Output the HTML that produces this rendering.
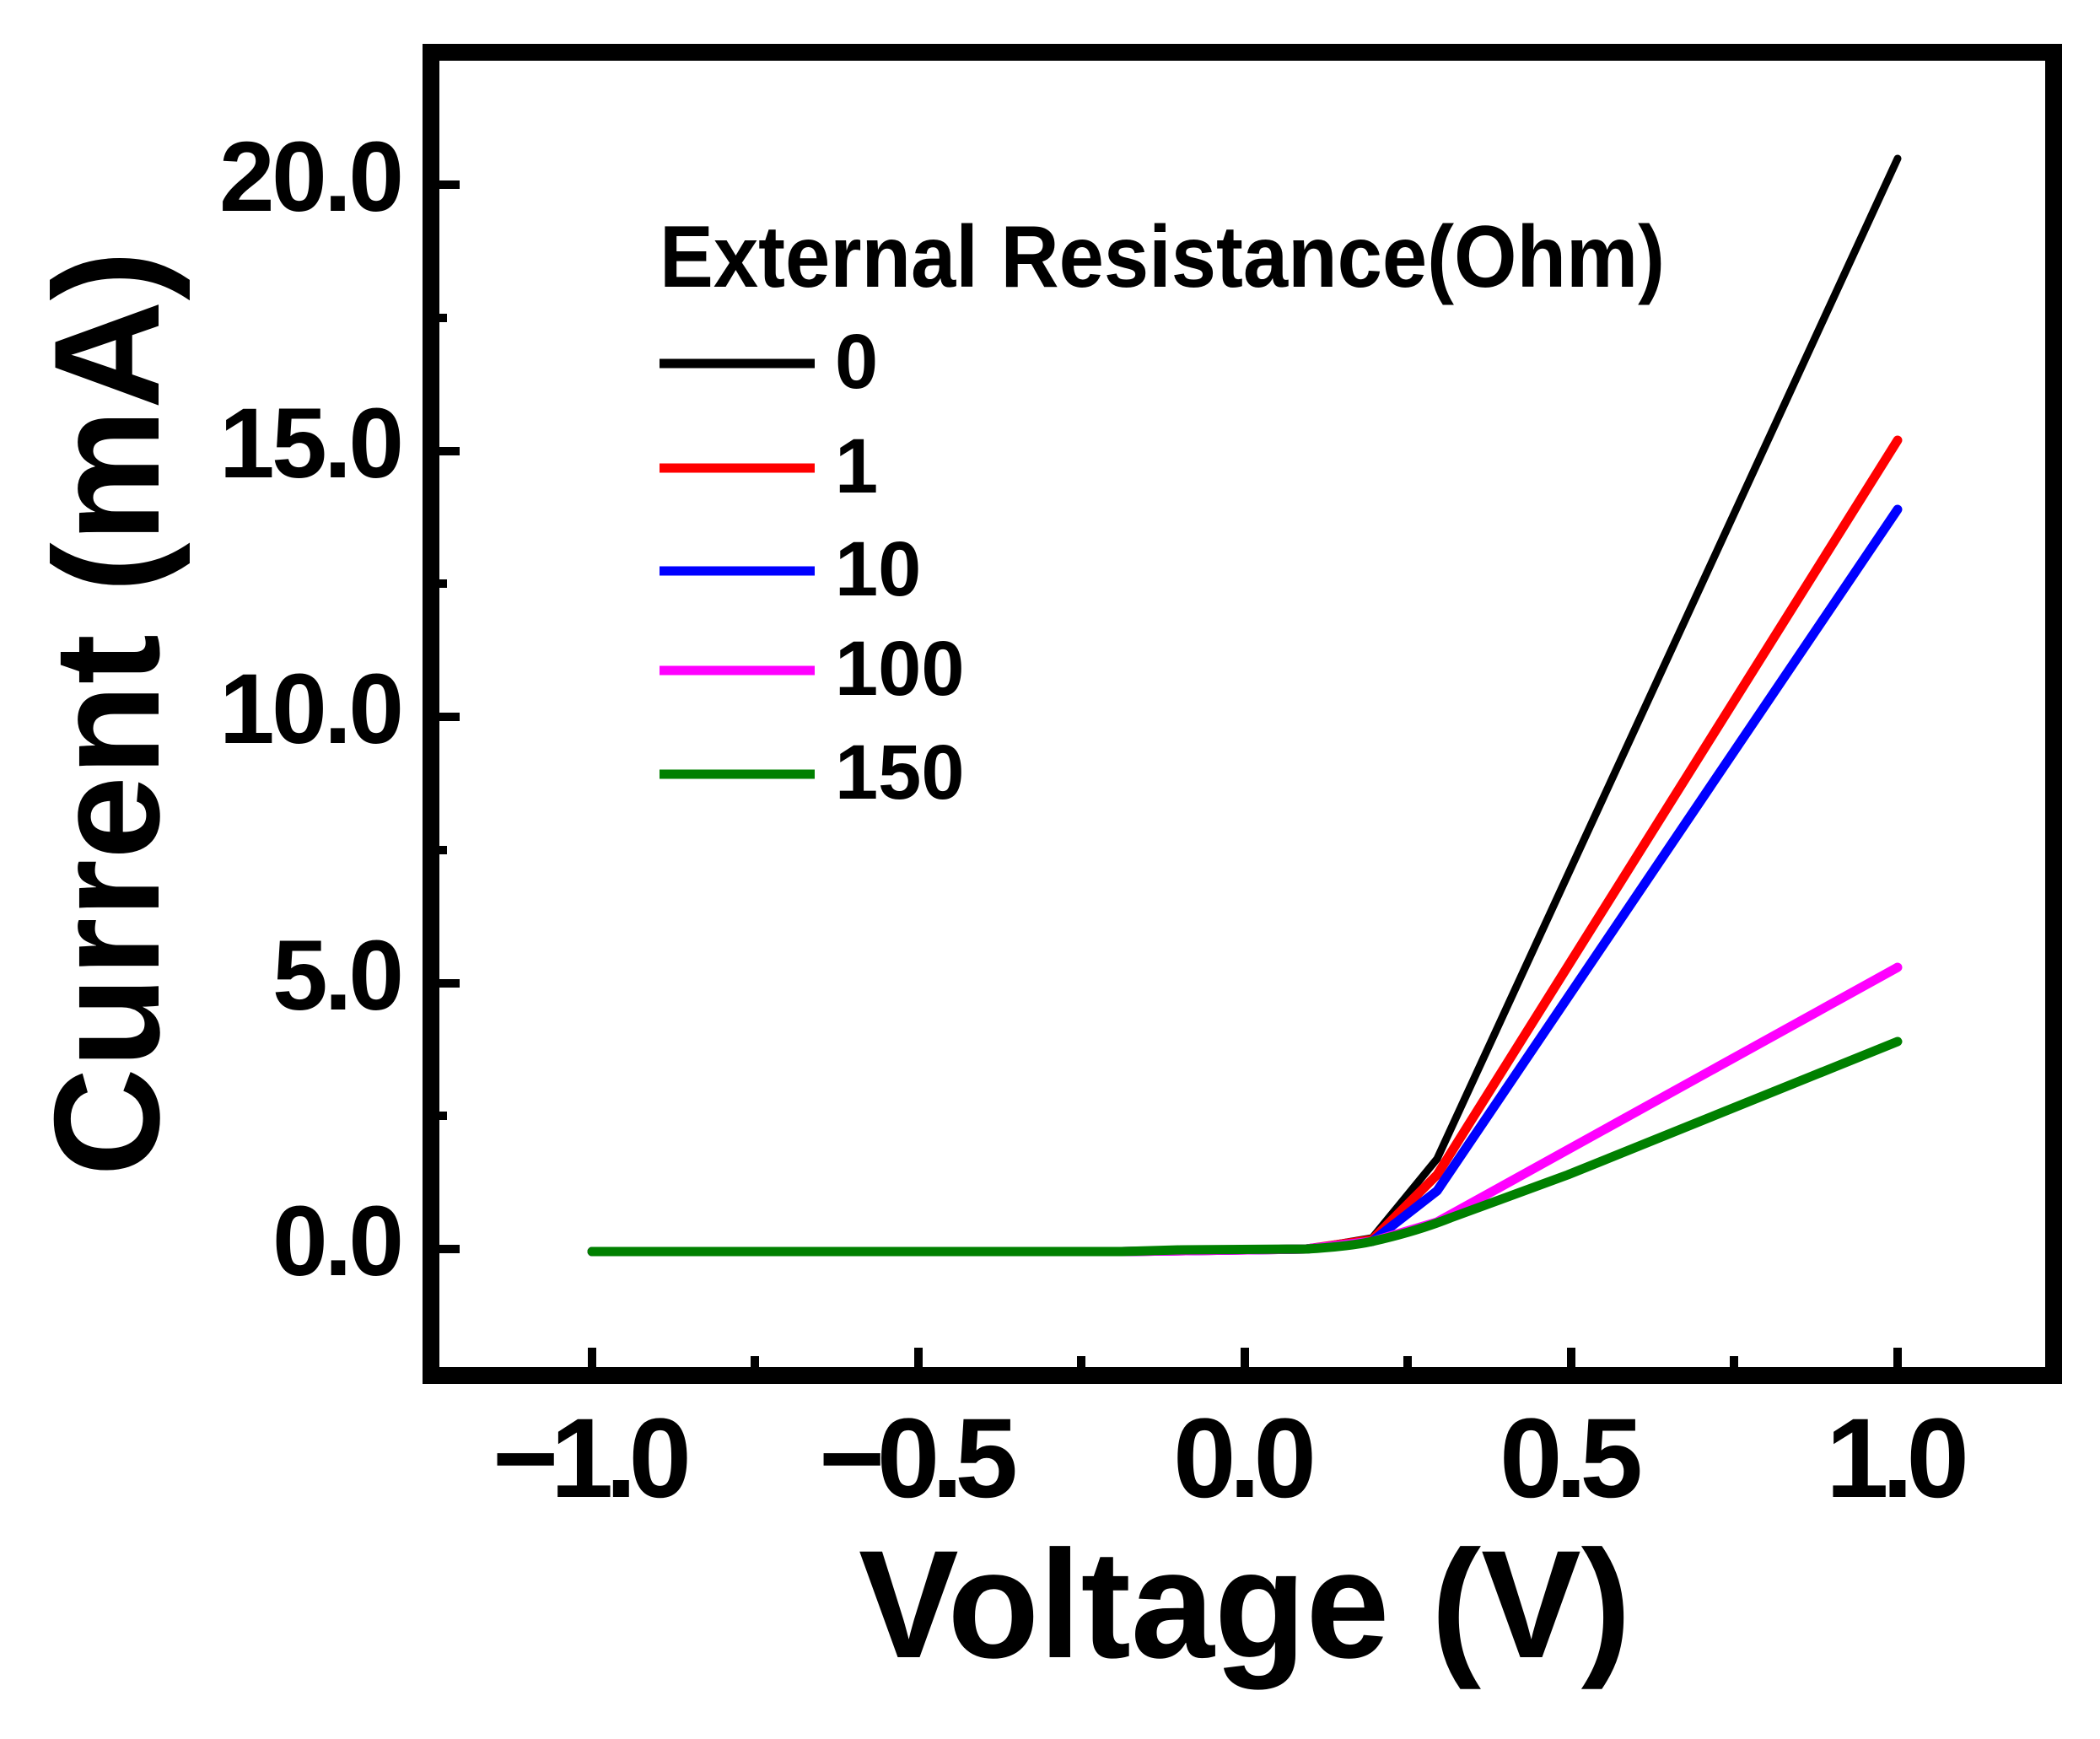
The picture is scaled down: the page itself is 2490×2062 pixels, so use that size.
<!DOCTYPE html>
<html><head><meta charset="utf-8"><style>html,body{margin:0;padding:0;background:#fff}</style></head>
<body>
<svg width="2490" height="2057" viewBox="0 0 2490 2057" xmlns="http://www.w3.org/2000/svg" font-family="Liberation Sans, Arial, sans-serif" font-weight="bold">
<rect width="2490" height="2057" fill="#fff"/>
<g fill="none" stroke-width="11" stroke-linejoin="round" stroke-linecap="round">
<polyline stroke="#000" stroke-width="9" points="702,1484 1330,1484 1549,1481 1627,1468 1704,1374 2250,188"/>
<polyline stroke="#f00" points="702,1484 1330,1484 1549,1481 1627,1470 1704,1393 2250,522"/>
<polyline stroke="#00f" points="702,1484 1330,1484 1549,1481 1627,1472 1704,1412 2250,604"/>
<polyline stroke="#f0f" points="702,1484 1330,1484 1549,1481 1627,1472 1704,1449 2250,1147"/>
<path stroke="#008000" d="M702,1484 L1330,1484 L1400,1482 L1549,1481 Q1600,1478 1627,1472 Q1680,1460 1720,1444 L1859,1393 Q2050,1315 2250,1235"/>
</g>
<rect x="511" y="62" width="1924" height="1569" fill="none" stroke="#000" stroke-width="20"/>
<g stroke="#000" stroke-width="10">
<line x1="505" y1="219" x2="545" y2="219"/><line x1="505" y1="535" x2="545" y2="535"/>
<line x1="505" y1="850" x2="545" y2="850"/><line x1="505" y1="1166" x2="545" y2="1166"/>
<line x1="505" y1="1481" x2="545" y2="1481"/>
<line x1="511" y1="377" x2="530" y2="377"/><line x1="511" y1="692" x2="530" y2="692"/>
<line x1="511" y1="1008" x2="530" y2="1008"/><line x1="511" y1="1323" x2="530" y2="1323"/>
<line x1="702" y1="1621" x2="702" y2="1598"/><line x1="1089" y1="1621" x2="1089" y2="1598"/>
<line x1="1476" y1="1621" x2="1476" y2="1598"/><line x1="1863" y1="1621" x2="1863" y2="1598"/>
<line x1="2250" y1="1621" x2="2250" y2="1598"/>
<line x1="895" y1="1621" x2="895" y2="1608"/><line x1="1282" y1="1621" x2="1282" y2="1608"/>
<line x1="1669" y1="1621" x2="1669" y2="1608"/><line x1="2056" y1="1621" x2="2056" y2="1608"/>
</g>
<g font-size="118" lengthAdjust="spacingAndGlyphs">
<text x="260" y="250" textLength="219">20.0</text><text x="260" y="566" textLength="219">15.0</text>
<text x="260" y="881" textLength="219">10.0</text><text x="323" y="1197" textLength="156">5.0</text>
<text x="323" y="1512" textLength="156">0.0</text>
</g>
<g font-size="134" lengthAdjust="spacingAndGlyphs">
<text x="584" y="1775" textLength="236">−1.0</text><text x="971" y="1775" textLength="236">−0.5</text>
<text x="1391" y="1775" textLength="170">0.0</text><text x="1778" y="1775" textLength="170">0.5</text>
<text x="2165" y="1775" textLength="170">1.0</text>
</g>
<text x="1018" y="1965" font-size="182" textLength="916" lengthAdjust="spacingAndGlyphs">Voltage (V)</text>
<text transform="translate(188,846) rotate(-90)" font-size="178" text-anchor="middle">Current (mA)</text>
<text x="782" y="340" font-size="104" textLength="1192" lengthAdjust="spacingAndGlyphs">External Resistance(Ohm)</text>
<g stroke-width="11">
<line x1="782" y1="431" x2="966" y2="431" stroke="#000"/>
<line x1="782" y1="555" x2="966" y2="555" stroke="#f00"/>
<line x1="782" y1="677" x2="966" y2="677" stroke="#00f"/>
<line x1="782" y1="795" x2="966" y2="795" stroke="#f0f"/>
<line x1="782" y1="918" x2="966" y2="918" stroke="#008000"/>
</g>
<g font-size="92">
<text x="990" y="460">0</text><text x="990" y="584">1</text>
<text x="990" y="706">10</text><text x="990" y="824">100</text>
<text x="990" y="947">150</text>
</g>
</svg>
</body></html>
